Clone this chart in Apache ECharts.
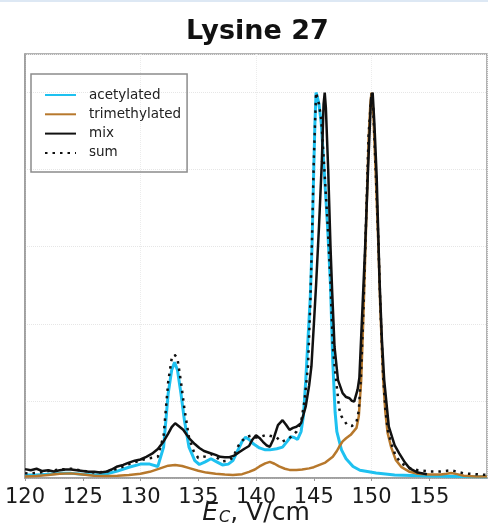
<!DOCTYPE html>
<html lang="en">
<head>
    <meta charset="UTF-8">
    <title>Lysine 27</title>
    <script src="https://cdn.jsdelivr.net/npm/echarts@6/dist/echarts.min.js"></script>
    <style>
        html, body { margin: 0; padding: 0; background: #fff; }
    </style>
</head>
<body>
    <div id="chart" style="width: 488px; height: 525px;"></div>

    <script>
        var xTicks = [120, 125, 130, 135, 140, 145, 150, 155];
        var seriesNames = ['acetylated', 'trimethylated', 'mix', 'sum'];

        // [Ec, normalised intensity]
        var acetylated = [
            [120,0.008],[121,0.008],[122,0.01],[123,0.012],[124,0.012],[125,0.01],[126,0.008],[127,0.01],
            [128,0.018],[129,0.028],[130,0.036],[130.8,0.036],[131.5,0.03],[132.0,0.08],[132.4,0.22],
            [132.7,0.28],[132.95,0.30],[133.2,0.28],[133.5,0.22],[133.8,0.15],[134.2,0.08],[134.7,0.045],
            [135.1,0.035],[135.6,0.042],[136.1,0.05],[136.6,0.042],[137.1,0.034],[137.6,0.036],[138.0,0.045],
            [138.4,0.07],[138.8,0.095],[139.1,0.106],[139.4,0.1],[139.8,0.088],[140.3,0.078],[140.8,0.073],
            [141.2,0.073],[141.8,0.076],[142.3,0.08],[142.7,0.095],[143.0,0.107],[143.3,0.105],[143.6,0.1],
            [143.9,0.12],[144.1,0.16],[144.3,0.25],[144.5,0.36],[144.7,0.47],[144.85,0.6],[145.0,0.8],
            [145.1,0.92],[145.2,1.0],[145.3,0.99],[145.45,0.97],[145.65,0.92],[145.9,0.8],[146.2,0.65],
            [146.45,0.5],[146.65,0.3],[146.85,0.17],[147.0,0.12],[147.4,0.073],[147.8,0.05],[148.4,0.03],
            [149,0.02],[150.4,0.013],[152,0.008],[155,0.005],[158,0.004],[160,0.003]
        ];

        var trimethylated = [
            [120,0.004],[121,0.005],[122,0.008],[123,0.011],[124,0.012],[125,0.009],[126,0.006],[127,0.005],
            [128,0.006],[129,0.008],[130,0.011],[130.8,0.016],[131.7,0.025],[132.4,0.032],[133.0,0.034],
            [133.6,0.031],[134.3,0.025],[135,0.019],[135.7,0.014],[136.5,0.011],[137.3,0.009],[138,0.008],
            [138.8,0.01],[139.4,0.016],[139.9,0.022],[140.3,0.03],[140.8,0.038],[141.2,0.042],[141.6,0.037],
            [142.0,0.03],[142.5,0.024],[142.9,0.021],[143.5,0.021],[144.0,0.022],[144.6,0.025],[145.0,0.028],
            [145.5,0.034],[146.0,0.04],[146.65,0.055],[147.0,0.07],[147.2,0.081],[147.5,0.095],[147.8,0.103],
            [148.2,0.112],[148.7,0.13],[148.9,0.16],[149.1,0.25],[149.3,0.42],[149.5,0.62],[149.75,0.88],
            [149.9,0.97],[150.0,1.0],[150.15,0.95],[150.35,0.8],[150.6,0.6],[150.75,0.45],[151.0,0.26],
            [151.2,0.17],[151.4,0.116],[151.7,0.08],[152.1,0.047],[152.6,0.028],[153.3,0.016],[154,0.011],
            [155,0.009],[156,0.009],[156.5,0.011],[156.9,0.013],[157.4,0.01],[158,0.006],[159,0.004],[160,0.004]
        ];

        var mix = [
            [120,0.023],[120.5,0.02],[121,0.024],[121.5,0.018],[122,0.02],[122.5,0.017],[123,0.02],[123.5,0.022],
            [124,0.022],[124.5,0.02],[125,0.018],[125.5,0.016],[126,0.016],[126.5,0.014],[127,0.016],[127.5,0.022],
            [128,0.03],[128.5,0.034],[129,0.04],[129.5,0.045],[130,0.048],[130.5,0.055],[131,0.063],[131.5,0.075],
            [132,0.095],[132.4,0.115],[132.7,0.132],[133.0,0.142],[133.3,0.135],[133.7,0.125],[134.0,0.112],
            [134.3,0.1],[134.7,0.088],[135.1,0.078],[135.5,0.07],[136,0.065],[136.5,0.06],[136.9,0.055],
            [137.3,0.054],[137.7,0.054],[138.1,0.058],[138.6,0.068],[139,0.076],[139.4,0.083],[139.7,0.1],
            [140.0,0.111],[140.3,0.104],[140.6,0.094],[140.9,0.085],[141.2,0.081],[141.5,0.1],[141.9,0.137],
            [142.3,0.15],[142.6,0.138],[142.9,0.125],[143.2,0.13],[143.5,0.133],[143.9,0.142],[144.3,0.185],
            [144.6,0.24],[144.8,0.29],[145.05,0.42],[145.2,0.5],[145.45,0.65],[145.7,0.82],[145.85,0.97],
            [145.95,1.0],[146.05,0.96],[146.25,0.8],[146.45,0.6],[146.6,0.48],[146.8,0.34],[147.1,0.254],
            [147.5,0.22],[147.8,0.21],[148.1,0.207],[148.3,0.2],[148.5,0.198],[148.8,0.23],[148.95,0.26],
            [149.2,0.43],[149.45,0.6],[149.7,0.8],[149.95,0.98],[150.1,1.0],[150.25,0.92],[150.45,0.78],
            [150.7,0.51],[150.9,0.36],[151.1,0.254],[151.5,0.133],[152.0,0.085],[152.4,0.064],[152.9,0.04],
            [153.3,0.025],[154.0,0.014],[154.8,0.01]
        ];

        var sum = [
            [120,0.012],[121,0.013],[122,0.018],[123,0.022],[124,0.024],[125,0.019],[126,0.014],[127,0.016],
            [128,0.024],[129,0.036],[130,0.046],[130.7,0.051],[131.5,0.055],[132.0,0.11],[132.4,0.25],
            [132.7,0.31],[132.95,0.32],[133.2,0.31],[133.5,0.25],[133.8,0.18],[134.2,0.105],[134.6,0.07],
            [135.0,0.052],[135.6,0.056],[136.1,0.062],[136.6,0.053],[137.1,0.043],[137.6,0.045],[138.0,0.053],
            [138.4,0.08],[138.7,0.094],[139.2,0.107],[139.6,0.11],[140.0,0.105],[140.5,0.108],[140.9,0.112],
            [141.4,0.108],[141.8,0.105],[142.2,0.094],[142.7,0.1],[143.05,0.107],[143.5,0.12],[143.9,0.145],
            [144.2,0.2],[144.5,0.29],[144.7,0.45],[144.85,0.62],[145.0,0.82],[145.2,1.0],[145.45,0.97],
            [145.65,0.93],[145.9,0.81],[146.2,0.66],[146.45,0.51],[146.65,0.34],[146.9,0.263],[147.2,0.18],
            [147.4,0.16],[147.9,0.137],[148.3,0.135],[148.7,0.145],[148.9,0.175],[149.1,0.27],[149.3,0.44],
            [149.5,0.64],[149.75,0.89],[150.0,1.0],[150.15,0.96],[150.35,0.81],[150.6,0.61],[150.75,0.46],
            [151.0,0.27],[151.2,0.18],[151.4,0.125],[151.7,0.09],[152.1,0.057],[152.6,0.038],[153.3,0.026],
            [154,0.02],[155,0.017],[156,0.017],[156.9,0.02],[158,0.012],[159,0.01],[160,0.008]
        ];

        var colors = ['#1ec1f0', '#b7782c', '#111111', '#111111'];
        var font = 'DejaVu Sans';

        var chart = echarts.init(document.getElementById('chart'), null, { renderer: 'canvas' });

        function lineSeries(name, data, color, width, type) {
            return {
                name: name,
                type: 'line',
                data: data,
                showSymbol: false,
                symbol: 'none',
                color: color,
                lineStyle: { color: color, width: width, type: type || 'solid', cap: 'butt' },
                emphasis: { disabled: true }
            };
        }

        chart.setOption({
            animation: false,
            graphic: [{
                type: 'rect',
                shape: { x: 0, y: 0, width: 488, height: 2 },
                style: { fill: '#dde8f4' }
            }],
            title: {
                text: 'Lysine 27',
                left: 181,
                top: 13,
                textStyle: { fontFamily: font, fontWeight: 'bold', fontSize: 27, color: '#111' }
            },
            legend: {
                data: seriesNames,
                orient: 'vertical',
                left: 31,
                top: 74,
                padding: [14, 6, 12, 13],
                itemWidth: 31,
                itemHeight: 14,
                itemGap: 5.3,
                itemStyle: { opacity: 0 },
                borderColor: '#8c8c8c',
                borderWidth: 1.5,
                textStyle: { fontFamily: font, fontSize: 13.5, color: '#222', padding: [0, 0, 0, 8] }
            },
            grid: {
                left: 25,
                right: 1,
                top: 54,
                bottom: 47,
                outerBoundsMode: 'none',
                show: true,
                borderColor: '#9a9a9a',
                borderWidth: 1.5
            },
            xAxis: [{
                type: 'value',
                min: 120,
                max: 160,
                interval: 5,
                axisLine: { show: true, lineStyle: { color: '#9a9a9a', width: 1.5 } },
                axisTick: { show: true, length: 3, lineStyle: { color: '#9a9a9a' } },
                splitLine: { show: false },
                axisLabel: {
                    showMaxLabel: false,
                    margin: 9,
                    fontFamily: font,
                    fontSize: 21,
                    color: '#1a1a1a',
                    formatter: function (v) { return xTicks.indexOf(v) >= 0 ? String(v) : ''; }
                },
                name: '{e|E}{c|C}{n|, V/cm}',
                nameLocation: 'middle',
                nameGap: 23,
                nameMoveOverlap: false,
                nameTextStyle: {
                    fontFamily: font,
                    color: '#1a1a1a',
                    rich: {
                        e: { fontFamily: font, fontSize: 25, fontStyle: 'italic', color: '#1a1a1a' },
                        c: { fontFamily: font, fontSize: 16, fontStyle: 'italic', color: '#1a1a1a', padding: [8, 0, 0, 1] },
                        n: { fontFamily: font, fontSize: 25, color: '#1a1a1a' }
                    }
                }
            }, {
                type: 'value',
                min: 120,
                max: 160,
                interval: 10,
                axisLine: { show: false },
                axisTick: { show: false },
                axisLabel: { show: false },
                splitLine: { show: true, lineStyle: { color: '#ececec', width: 1, type: 'dotted' } }
            }],
            yAxis: {
                type: 'value',
                min: 0,
                max: 1.1,
                interval: 0.2,
                axisLine: { show: true, lineStyle: { color: '#9a9a9a', width: 1.5 } },
                axisTick: { show: false },
                axisLabel: { show: false },
                splitLine: { show: true, lineStyle: { color: '#e6e6e6', width: 1, type: 'dotted' } }
            },
            series: [
                lineSeries('acetylated', acetylated, colors[0], 3),
                lineSeries('trimethylated', trimethylated, colors[1], 2.5),
                lineSeries('mix', mix, colors[2], 2.5),
                lineSeries('sum', sum, colors[3], 2.5, [2.5, 5])
            ]
        });
    </script>
</body>
</html>
